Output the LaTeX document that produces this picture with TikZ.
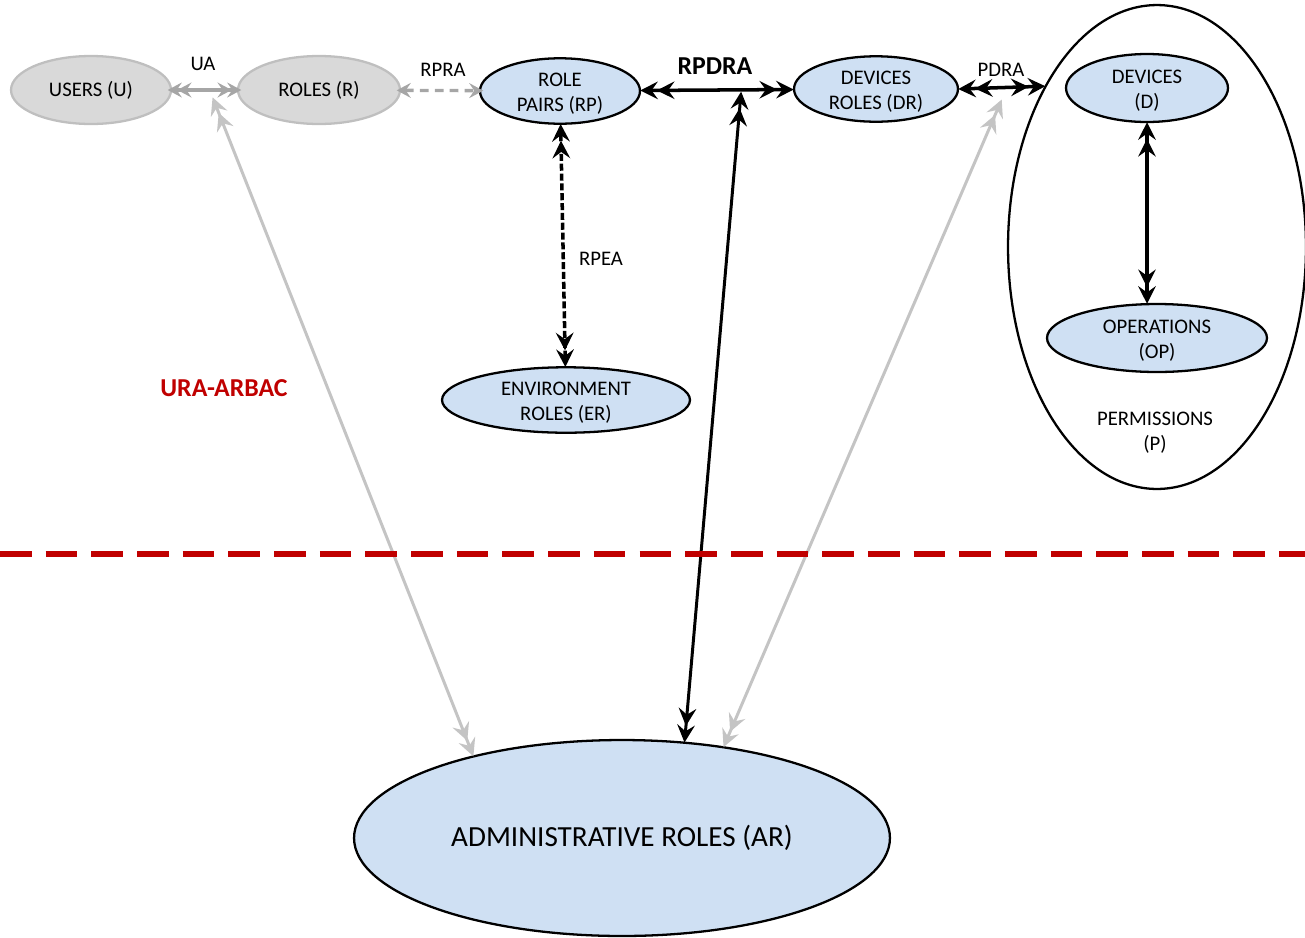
\documentclass[tikz,border=0pt]{standalone}
\usepackage{fontspec}
\setmainfont{Carlito}
\usetikzlibrary{arrows.meta,shapes.geometric}
\definecolor{nodeblue}{HTML}{CFE0F3}
\definecolor{nodegray}{HTML}{D9D9D9}
\definecolor{edgegray}{HTML}{BFBFBF}
\definecolor{linkgray}{HTML}{A6A6A6}
\definecolor{lightlink}{HTML}{C4C4C4}
\definecolor{darkred}{HTML}{C00000}
% a slightly taller first line keeps two-line labels optically centred
\newcommand{\toprow}{\rule{0pt}{10.4pt}}
\begin{document}
\begin{tikzpicture}[x=0.02cm,y=-0.02cm,
  bighead/.style={>={Stealth[length=10pt,width=10pt,inset=3.6pt,sep=-0.5pt]}},
  smallhead/.style={>={Stealth[length=8pt,width=8.5pt,inset=2.9pt,sep=-2.5pt]}},
  dbl/.style={<<->>},
  txt/.style={font=\fontsize{11.8}{14.3}\selectfont, align=center, inner sep=0pt},
  ell/.style={ellipse, draw, line width=1.3pt, txt},
  bluenode/.style={ell, fill=nodeblue},
  graynode/.style={ell, fill=nodegray, draw=edgegray},
  blk/.style={bighead, line width=2pt, black},
  blkdash/.style={blk, dash pattern=on 4pt off 1.6pt},
  graylink/.style={smallhead, line width=1.9pt, linkgray},
  graydash/.style={graylink, dash pattern=on 5pt off 3.5pt},
  lightline/.style={bighead, line width=1.7pt, lightlink},
  divider/.style={line width=3pt, darkred, dash pattern=on 18pt off 8pt}
]
\useasboundingbox (0,0) rectangle (1305,937);

% permission container and its members
\node[ell, minimum width=5.96cm, minimum height=9.68cm] (P) at (1157,247) {};
\node[txt] (ptext) at (1155,433) {PERMISSIONS\\(P)};
\node[bluenode, minimum width=3.24cm, minimum height=1.36cm] (D) at (1147,88) {\toprow DEVICES\\(D)};
\node[bluenode, minimum width=4.4cm, minimum height=1.36cm] (OP) at (1157,338) {\toprow OPERATIONS\\(OP)};

% user side
\node[graynode, minimum width=3.2cm, minimum height=1.36cm] (U) at (91,90) {USERS (U)};
\node[graynode, minimum width=3.24cm, minimum height=1.36cm] (R) at (319,90) {ROLES (R)};

% role pairs, device roles, environment roles
\node[bluenode, minimum width=3.2cm, minimum height=1.28cm] (RP) at (560,91) {\toprow ROLE\\PAIRS (RP)};
\node[bluenode, minimum width=3.28cm, minimum height=1.26cm] (DR) at (876,89) {\toprow DEVICES\\ROLES (DR)};
\node[bluenode, minimum width=4.96cm, minimum height=1.28cm] (ER) at (566,400) {\toprow ENVIRONMENT\\ROLES (ER)};

% administrative roles
\node[bluenode, minimum width=10.72cm, minimum height=3.92cm, font=\fontsize{16.6}{20}\selectfont] (AR) at (622,838) {ADMINISTRATIVE ROLES (AR)};

% relation labels
\node[txt] (lua) at (203,64) {UA};
\node[txt] (lrpra) at (443,70) {RPRA};
\node[txt, font=\fontsize{14.7}{17}\selectfont\bfseries] (lrpdra) at (715,66) {RPDRA};
\node[txt] (lpdra) at (1001,70) {PDRA};
\node[txt] (lrpea) at (601,259) {RPEA};
\node[txt, font=\fontsize{14.7}{17}\selectfont\bfseries, text=darkred] (lura) at (224,388) {URA-ARBAC};

% assignment relations
\draw[graylink, dbl] (U) -- (R) coordinate[pos=0.58] (ua);
\draw[graydash, <->] (R) -- (RP);
\draw[blk, dbl] (RP) -- (DR) coordinate[pos=0.66] (rpdra);
\draw[blk, dbl] (DR.east) -- (P.125.6) coordinate[pos=0.56] (pdra);
\draw[blkdash, dbl] (RP) -- (ER);
\draw[blk, dbl] (D.south) -- (D.south |- OP.north);

% administrative control over the relations
\draw[lightline, dbl, shorten >=5pt] (AR.151) -- (ua);
\draw[blk, line width=1.7pt, dbl, shorten >=1.5pt] (AR.57.6) -- (rpdra);
\draw[lightline, dbl, shorten >=8pt] (AR.42.6) -- (pdra);

% boundary between the administrative and the operational model
\draw[divider] (0,554) -- (1305,554);
\end{tikzpicture}
\end{document}
